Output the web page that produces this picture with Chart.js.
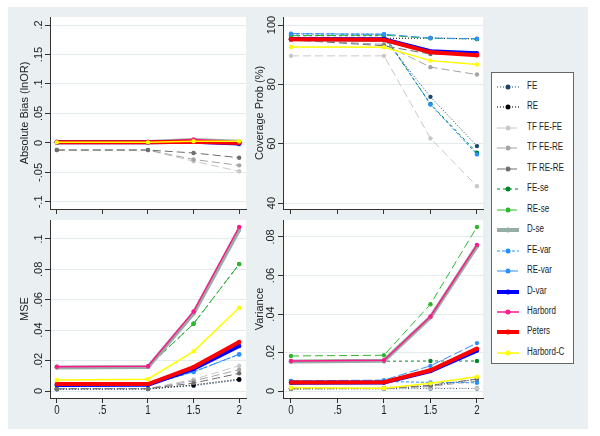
<!DOCTYPE html>
<html>
<head>
<meta charset="utf-8">
<script src="https://cdn.jsdelivr.net/npm/chart.js@4.4.1/dist/chart.umd.min.js"></script>
<style>
  body { margin: 0; background: #fff; }
  #bg { position: absolute; left: 8px; top: 7px; width: 580px; height: 422px; background: #eaf0f2; }
  canvas { position: absolute; }
  #legend { position: absolute; left: 491px; top: 72px; width: 81px; height: 290px; background: #fff; border: 1px solid #666; }
  .row { position: absolute; left: 0; height: 12px; }
  .row svg { position: absolute; left: 5px; top: 2px; }
  .row span { position: absolute; left: 35px; top: -1px; font: 10px "Liberation Sans", Arial, sans-serif; color: #222; white-space: nowrap; transform: scaleX(0.8); transform-origin: left center; }
</style>
</head>
<body>
<div id="bg"></div>
<canvas id="bias" width="242" height="209" style="left:8px;top:7px"></canvas>
<canvas id="coverage" width="240" height="209" style="left:250px;top:7px"></canvas>
<canvas id="mse" width="242" height="213" style="left:8px;top:216px"></canvas>
<canvas id="variance" width="240" height="213" style="left:250px;top:216px"></canvas>
<div id="legend"></div>
<script>
// x positions of the simulation scenarios
const xValues = [0, 1, 1.5, 2];
const xTicks = [0, 0.5, 1, 1.5, 2];

const seriesNames = ['FE', 'RE', 'TF FE-FE', 'TF FE-RE', 'TF RE-RE', 'FE-se', 'RE-se', 'D-se',
  'FE-var', 'RE-var', 'D-var', 'Harbord', 'Peters', 'Harbord-C'];

// one row per series, same order as seriesNames
const biasValues = [
  [0.001, 0.001, 0.003, 0.001],
  [0.001, 0.001, 0.003, 0.001],
  [-0.012, -0.012, -0.031, -0.048],
  [-0.012, -0.012, -0.028, -0.038],
  [-0.012, -0.012, -0.017, -0.025],
  [0.001, 0.001, 0.004, 0.002],
  [0.001, 0.001, 0.004, 0.002],
  [0.0015, 0.0015, 0.005, 0.002],
  [0.001, 0.001, 0.002, -0.002],
  [0.001, 0.001, 0.002, -0.002],
  [0.001, 0.001, 0.002, -0.001],
  [0.002, 0.002, 0.006, 0.002],
  [0.001, 0.001, 0.002, 0.0],
  [0.001, 0.001, 0.003, 0.003]
];
const coverageValues = [
  [95.3, 95.5, 75.8, 59.2],
  [95.3, 95.5, 95.6, 95.3],
  [89.6, 89.6, 61.8, 45.7],
  [95.0, 93.5, 85.8, 83.3],
  [95.0, 93.0, 90.2, 89.9],
  [96.4, 96.4, 73.4, 57.0],
  [96.4, 96.6, 95.5, 95.3],
  [95.2, 95.0, 91.0, 90.2],
  [97.0, 96.9, 73.2, 56.4],
  [97.1, 96.9, 95.6, 95.4],
  [95.3, 95.2, 91.2, 90.5],
  [95.2, 95.0, 91.0, 90.0],
  [95.2, 95.0, 90.8, 89.8],
  [92.6, 92.5, 88.0, 86.7]
];
const mseValues = [
  [0.0012, 0.0013, 0.0035, 0.0072],
  [0.0013, 0.0014, 0.0040, 0.0078],
  [0.0016, 0.0016, 0.0076, 0.0166],
  [0.0016, 0.0016, 0.0066, 0.0140],
  [0.0015, 0.0015, 0.0052, 0.0116],
  [0.0158, 0.0160, 0.0442, 0.0834],
  [0.0158, 0.0160, 0.0442, 0.0834],
  [0.0154, 0.0158, 0.0510, 0.1060],
  [0.0040, 0.0041, 0.0125, 0.0240],
  [0.0041, 0.0042, 0.0126, 0.0242],
  [0.0040, 0.0041, 0.0145, 0.0296],
  [0.0159, 0.0163, 0.0523, 0.1078],
  [0.0046, 0.0046, 0.0157, 0.0322],
  [0.0072, 0.0078, 0.0261, 0.0547]
];
const varianceValues = [
  [0.0012, 0.0012, 0.0013, 0.0013],
  [0.0012, 0.0013, 0.0027, 0.0062],
  [0.0012, 0.0012, 0.0016, 0.0014],
  [0.0012, 0.0013, 0.0024, 0.0052],
  [0.0013, 0.0014, 0.0030, 0.0062],
  [0.0155, 0.0155, 0.0156, 0.0156],
  [0.0182, 0.0186, 0.0451, 0.0852],
  [0.0153, 0.0157, 0.0383, 0.0752],
  [0.0053, 0.0050, 0.0045, 0.0043],
  [0.0053, 0.0057, 0.0131, 0.0249],
  [0.0043, 0.0044, 0.0104, 0.0210],
  [0.0156, 0.0160, 0.0387, 0.0759],
  [0.0045, 0.0046, 0.0108, 0.0220],
  [0.0017, 0.0015, 0.0040, 0.0074]
];

const biasTicks = [-0.1, -0.05, 0, 0.05, 0.1, 0.15, 0.2];
const coverageTicks = [40, 60, 80, 100];
const mseTicks = [0, 0.02, 0.04, 0.06, 0.08, 0.1];
const varianceTicks = [0, 0.02, 0.04, 0.06, 0.08];

// line look for each series
const seriesStyles = [
  { color: '#1a476f', width: 1, dash: [1, 2] },
  { color: '#000000', width: 1, dash: [1, 2] },
  { color: '#c8c8c8', width: 1, dash: [8, 4] },
  { color: '#a4a4a4', width: 1, dash: [8, 4] },
  { color: '#6e6e6e', width: 1, dash: [8, 4] },
  { color: '#00852b', width: 1, dash: [3, 3] },
  { color: '#2cb82c', width: 1, dash: [8, 4] },
  { color: '#97aea6', width: 4, dash: [] },
  { color: '#1e90ff', width: 1, dash: [3, 2] },
  { color: '#2f8fff', width: 1, dash: [9, 3] },
  { color: '#0000ff', width: 4, dash: [] },
  { color: '#ff1a8c', width: 1.5, dash: [] },
  { color: '#ff0000', width: 4, dash: [] },
  { color: '#ffff00', width: 1.5, dash: [] }
];

const FONT = '"Liberation Sans", Arial, sans-serif';

function fmt(v) {
  let s = String(+v.toFixed(4));
  return s.replace(/^(-?)0\./, '$1.');
}

// white plot region + stata style text
const panelText = {
  id: 'panelText',
  beforeDraw(chart) {
    const a = chart.chartArea, ctx = chart.ctx;
    ctx.save();
    ctx.fillStyle = '#fff';
    ctx.fillRect(a.left, a.top, a.right - a.left, a.bottom - a.top);
    ctx.restore();
  },
  afterDraw(chart, args, o) {
    const ctx = chart.ctx, a = chart.chartArea;
    const ys = chart.scales.y, xs = chart.scales.x;
    ctx.save();
    ctx.fillStyle = '#222';
    ctx.textAlign = 'center';
    ctx.textBaseline = 'middle';
    ctx.font = '11px ' + FONT;
    o.yTicks.forEach(v => {
      ctx.save();
      ctx.translate(o.labelX, ys.getPixelForValue(v));
      ctx.rotate(-Math.PI / 2);
      ctx.fillText(fmt(v), 0, 0);
      ctx.restore();
    });
    ctx.save();
    ctx.translate(o.titleX, (a.top + a.bottom) / 2);
    ctx.rotate(-Math.PI / 2);
    ctx.fillText(o.title, 0, 0);
    ctx.restore();
    if (o.xLabels) {
      ctx.font = '13px ' + FONT;
      xTicks.forEach(v => {
        ctx.save();
        ctx.translate(xs.getPixelForValue(v), o.xLabelY);
        ctx.scale(0.75, 1);
        ctx.fillText(fmt(v), 0, 0);
        ctx.restore();
      });
    }
    ctx.restore();
  }
};

function makePanel(id, values, yMin, yMax, yTicks, p) {
  const datasets = values.map((row, i) => ({
    label: seriesNames[i],
    data: row.map((y, j) => ({ x: xValues[j], y: y })),
    borderColor: seriesStyles[i].color,
    backgroundColor: seriesStyles[i].color,
    borderWidth: seriesStyles[i].width,
    borderDash: seriesStyles[i].dash,
    pointRadius: 2.2,
    pointBorderWidth: 0,
    tension: 0,
    order: -i
  }));
  return new Chart(document.getElementById(id), {
    type: 'line',
    data: { datasets },
    plugins: [panelText],
    options: {
      responsive: false,
      animation: false,
      layout: { padding: { top: p.padTop, right: p.padRight, left: 0, bottom: 0 } },
      plugins: {
        legend: { display: false },
        tooltip: { enabled: false },
        panelText: { yTicks: yTicks, labelX: p.labelX, titleX: p.titleX, title: p.title, xLabels: p.xLabels, xLabelY: p.xLabelY }
      },
      scales: {
        x: {
          type: 'linear', min: p.xMin, max: p.xMax,
          afterBuildTicks: s => { s.ticks = xTicks.map(v => ({ value: v })); },
          afterFit: s => { s.height = p.xHeight; },
          ticks: { display: false },
          grid: { drawOnChartArea: false, tickLength: 5, color: '#333', tickColor: '#333' },
          border: { color: '#333' }
        },
        y: {
          type: 'linear', min: yMin, max: yMax,
          afterBuildTicks: s => { s.ticks = yTicks.map(v => ({ value: v })); },
          afterFit: s => { s.width = p.yWidth; },
          ticks: { display: false },
          grid: { color: '#e3ebee', tickLength: 5, tickColor: '#333' },
          border: { color: '#333' }
        }
      }
    }
  });
}

makePanel('bias', biasValues, -0.112, 0.2136, biasTicks, {
  padTop: 10, padRight: 0, yWidth: 42, xHeight: 7, xMin: -0.075, xMax: 2.075,
  labelX: 31, titleX: 17, title: 'Absolute Bias (lnOR)', xLabels: false
});
makePanel('coverage', coverageValues, 38, 102.7, coverageTicks, {
  padTop: 10, padRight: 7, yWidth: 33, xHeight: 7, xMin: -0.086, xMax: 2.065,
  labelX: 22, titleX: 9.5, title: 'Coverage Prob (%)', xLabels: false
});
makePanel('mse', mseValues, -0.0046, 0.1124, mseTicks, {
  padTop: 3, padRight: 0, yWidth: 42, xHeight: 31, xMin: -0.075, xMax: 2.075,
  labelX: 30.5, titleX: 17, title: 'MSE', xLabels: true, xLabelY: 194
});
makePanel('variance', varianceValues, -0.0036, 0.0888, varianceTicks, {
  padTop: 3, padRight: 7, yWidth: 33, xHeight: 31, xMin: -0.086, xMax: 2.065,
  labelX: 20.5, titleX: 9.5, title: 'Variance', xLabels: true, xLabelY: 194
});

// legend box built from the same names and styles
const legend = document.getElementById('legend');
seriesNames.forEach((name, i) => {
  const st = seriesStyles[i];
  const row = document.createElement('div');
  row.className = 'row';
  row.style.top = (8 + i * 20.45) + 'px';
  row.innerHTML =
    '<svg width="24" height="8"><line x1="0" y1="4" x2="22" y2="4" stroke="' + st.color +
    '" stroke-width="' + st.width + '" stroke-dasharray="' + st.dash.join(',') + '"/>' +
    '<circle cx="11" cy="4" r="2.5" fill="' + st.color + '"/></svg><span>' + name + '</span>';
  legend.appendChild(row);
});
</script>
</body>
</html>
